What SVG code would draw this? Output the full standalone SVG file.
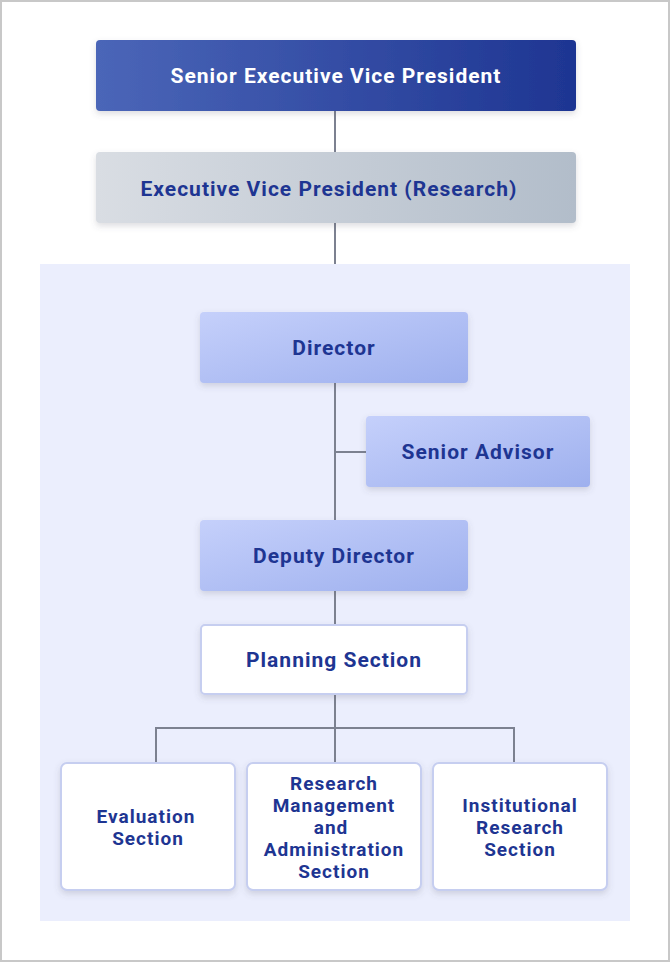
<svg xmlns="http://www.w3.org/2000/svg" width="670" height="962" viewBox="0 0 670 962">
<defs>
<linearGradient id="gTop" x1="0" x2="1"><stop offset="0" stop-color="#4b66b8"/><stop offset="1" stop-color="#1e3592"/></linearGradient>
<linearGradient id="gEvp" x1="0" x2="1"><stop offset="0" stop-color="#d9dde3"/><stop offset="1" stop-color="#b2bdca"/></linearGradient>
<linearGradient id="gDir" x1="0" x2="1" y1="0" y2="1"><stop offset="0" stop-color="#c5d0fb"/><stop offset="1" stop-color="#9eb0ee"/></linearGradient>
<filter id="sh" x="-10%" y="-20%" width="120%" height="150%"><feDropShadow dx="0" dy="3" stdDeviation="3" flood-color="#556" flood-opacity="0.2"/></filter>
</defs>
<style>
text{font-family:Roboto,"Liberation Sans",sans-serif;font-weight:bold;text-anchor:middle;letter-spacing:1px}
.t1{font-size:21px}
.t2{font-size:19px}
.dk{fill:#1e3592}
.w{fill:#fff}
.box{fill:#fff;stroke:#c6cef0;stroke-width:2}
.ln{stroke:#7c8190;stroke-width:2;fill:none}
</style>
<rect x="1" y="1" width="668" height="960" fill="#fff" stroke="#c8c8c8" stroke-width="2"/>
<rect x="40" y="264" width="590" height="657" fill="#ebeefd"/>
<g id="connectors">
<path class="ln" d="M335 111V152M335 223V264M335 383V520M335 452H366M335 591V625M335 694V763M156 763V728H514V763"/>
</g>
<g id="svp"><rect x="96" y="40" width="480" height="71" rx="4" fill="url(#gTop)" filter="url(#sh)"/><text class="t1 w" x="336" y="83">Senior Executive Vice President</text></g>
<g id="evp"><rect x="96" y="152" width="480" height="71" rx="4" fill="url(#gEvp)" filter="url(#sh)"/><text class="t1 dk" x="329" y="196">Executive Vice President (Research)</text></g>
<g id="director"><rect x="200" y="312" width="268" height="71" rx="4" fill="url(#gDir)" filter="url(#sh)"/><text class="t1 dk" x="334" y="355">Director</text></g>
<g id="advisor"><rect x="366" y="416" width="224" height="71" rx="4" fill="url(#gDir)" filter="url(#sh)"/><text class="t1 dk" x="478" y="459">Senior Advisor</text></g>
<g id="deputy"><rect x="200" y="520" width="268" height="71" rx="4" fill="url(#gDir)" filter="url(#sh)"/><text class="t1 dk" x="334" y="563">Deputy Director</text></g>
<g id="planning"><rect class="box" x="201" y="625" width="266" height="69" rx="4" filter="url(#sh)"/><text class="t1 dk" x="334" y="667">Planning Section</text></g>
<g id="evaluation"><rect class="box" x="61" y="763" width="174" height="127" rx="6" filter="url(#sh)"/><text class="t2 dk" x="146" y="823">Evaluation</text><text class="t2 dk" x="148" y="845">Section</text></g>
<g id="rma"><rect class="box" x="247" y="763" width="174" height="127" rx="6" filter="url(#sh)"/><text class="t2 dk" x="334" y="790">Research</text><text class="t2 dk" x="334" y="812">Management</text><text class="t2 dk" x="331" y="834">and</text><text class="t2 dk" x="334" y="856">Administration</text><text class="t2 dk" x="334" y="878">Section</text></g>
<g id="institutional"><rect class="box" x="433" y="763" width="174" height="127" rx="6" filter="url(#sh)"/><text class="t2 dk" x="520" y="812">Institutional</text><text class="t2 dk" x="520" y="834">Research</text><text class="t2 dk" x="520" y="856">Section</text></g>
</svg>
